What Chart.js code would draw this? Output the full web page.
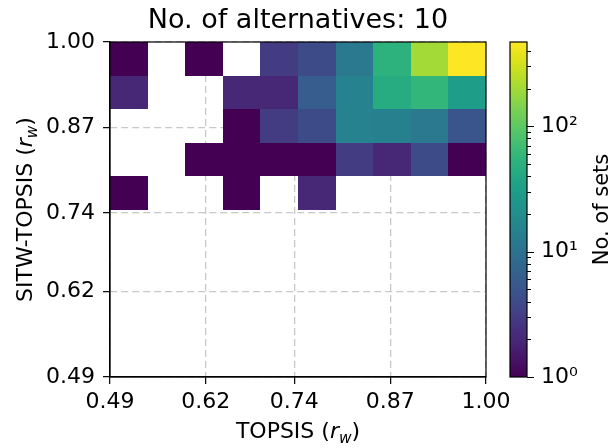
<!DOCTYPE html>
<html>
<head>
<meta charset="utf-8">
<script src="https://cdn.jsdelivr.net/npm/chart.js@4.4.1/dist/chart.umd.min.js"></script>
<style>
  html, body { margin: 0; padding: 0; background: #fff; }
</style>
</head>
<body>
<canvas id="chart" width="611" height="448"></canvas>
<script>
// bin edges, same on both axes
const binEdges = [0.49, 0.541, 0.592, 0.643, 0.694, 0.745, 0.796, 0.847, 0.898, 0.949, 1.0];
const tickValues = [0.49, 0.62, 0.74, 0.87, 1.00];
const cbTicks = [1, 10, 100];
const cbLabels = ['10\u2070', '10\u00b9', '10\u00b2'];
const cbMax = 470;

// counts per y bin (left to right along x); empty rows below 0.745
const row0745 = [1, 0, 0, 1, 0, 2, 0, 0, 0, 0];
const row0796 = [0, 0, 1, 1, 1, 1, 3, 2, 4, 1];
const row0847 = [0, 0, 0, 1, 3, 4, 15, 14, 12, 5];
const row0898 = [2, 0, 0, 2, 2, 6, 15, 45, 58, 30];
const row0949 = [1, 0, 1, 0, 3, 4, 12, 52, 200, 470];
const emptyRow = [0, 0, 0, 0, 0, 0, 0, 0, 0, 0];
const counts = [emptyRow, emptyRow, emptyRow, emptyRow, emptyRow, row0745, row0796, row0847, row0898, row0949];

const titleText = 'No. of alternatives: 10';
const xLabel = [{text: 'TOPSIS ('}, {text: 'r', it: true}, {text: 'w', it: true, sub: true}, {text: ')'}];
const yLabel = [{text: 'SITW-TOPSIS ('}, {text: 'r', it: true}, {text: 'w', it: true, sub: true}, {text: ')'}];
const cbLabel = [{text: 'No. of sets'}];

const FONT = 'DejaVu Sans';

const viridisStops = ['#440154', '#471365', '#482475', '#46327e', '#414487', '#3b528b', '#355f8d', '#2f6c8e',
  '#2a788e', '#25858e', '#21918c', '#1e9c89', '#22a884', '#2fb47c', '#44bf70', '#5ec962', '#7ad151',
  '#9bd93c', '#bddf26', '#dfe318', '#fde725'];

function hexRgb(h) {
  return [parseInt(h.slice(1, 3), 16), parseInt(h.slice(3, 5), 16), parseInt(h.slice(5, 7), 16)];
}
function viridis(t) {
  t = Math.max(0, Math.min(1, t));
  const n = viridisStops.length - 1;
  const i = Math.min(n - 1, Math.floor(t * n));
  const f = t * n - i;
  const a = hexRgb(viridisStops[i]), b = hexRgb(viridisStops[i + 1]);
  const c = a.map((v, k) => Math.round(v + (b[k] - v) * f));
  return `rgb(${c[0]},${c[1]},${c[2]})`;
}

const cells = [];
counts.forEach((row, j) => row.forEach((v, i) => {
  if (v > 0) cells.push({x: binEdges[i], y: binEdges[j], x2: binEdges[i + 1], y2: binEdges[j + 1], v: v});
}));

function drawRich(ctx, parts, size) {
  const fontFor = p => (p.it ? 'italic ' : '') + (p.sub ? size * 0.7 : size) + 'px "' + FONT + '"';
  const widths = parts.map(p => { ctx.font = fontFor(p); return ctx.measureText(p.text).width; });
  let x = -widths.reduce((a, b) => a + b, 0) / 2;
  parts.forEach((p, i) => {
    ctx.font = fontFor(p);
    ctx.fillText(p.text, x, p.sub ? size * 0.22 : 0);
    x += widths[i];
  });
}

const heatmap = {
  id: 'heatmap',
  beforeDatasetsDraw(chart) {
    const {ctx, scales: {x, y}} = chart;
    const lmax = Math.log10(cbMax);
    ctx.save();
    chart.data.datasets[0].data.forEach(c => {
      const x0 = Math.round(x.getPixelForValue(c.x)), x1 = Math.round(x.getPixelForValue(c.x2));
      const y0 = Math.round(y.getPixelForValue(c.y2)), y1 = Math.round(y.getPixelForValue(c.y));
      ctx.fillStyle = viridis(Math.log10(c.v) / lmax);
      ctx.fillRect(x0, y0, x1 - x0, y1 - y0);
    });
    ctx.restore();
  },
  afterDraw(chart) {
    const {ctx, chartArea: a} = chart;
    const cb = chart.scales.cb;
    ctx.save();
    // frame
    ctx.strokeStyle = '#000';
    ctx.lineWidth = 1.2;
    ctx.strokeRect(a.left, a.top, a.right - a.left, a.bottom - a.top);

    // colorbar
    const barL = cb.left + 24, barR = cb.left + 41;
    const grad = ctx.createLinearGradient(0, cb.bottom, 0, cb.top);
    viridisStops.forEach((c, i) => grad.addColorStop(i / (viridisStops.length - 1), c));
    ctx.fillStyle = grad;
    ctx.fillRect(barL, cb.top, barR - barL, cb.bottom - cb.top);
    ctx.strokeRect(barL, cb.top, barR - barL, cb.bottom - cb.top);
    ctx.lineWidth = 1;
    for (let d = 1; d <= 100; d *= 10) {
      for (let m = 1; m < 10; m++) {
        const v = d * m;
        if (v > cbMax) break;
        const py = Math.round(cb.getPixelForValue(v)) + 0.5;
        ctx.beginPath();
        ctx.moveTo(barR, py);
        ctx.lineTo(barR + (m === 1 ? 7 : 4), py);
        ctx.stroke();
      }
    }

    // texts
    ctx.fillStyle = '#000';
    ctx.textAlign = 'left';
    ctx.textBaseline = 'alphabetic';
    ctx.font = '27px "' + FONT + '"';
    const tw = ctx.measureText(titleText).width;
    ctx.fillText(titleText, (a.left + a.right) / 2 - tw / 2, 28);

    ctx.save();
    ctx.translate((a.left + a.right) / 2, 438);
    drawRich(ctx, xLabel, 22);
    ctx.restore();

    ctx.save();
    ctx.translate(32, (a.top + a.bottom) / 2);
    ctx.rotate(-Math.PI / 2);
    drawRich(ctx, yLabel, 22);
    ctx.restore();

    ctx.save();
    ctx.translate(608, (a.top + a.bottom) / 2);
    ctx.rotate(-Math.PI / 2);
    drawRich(ctx, cbLabel, 21);
    ctx.restore();
    ctx.restore();
  }
};

const noPad = s => { s.paddingTop = 0; s.paddingBottom = 0; s.paddingLeft = 0; s.paddingRight = 0; };

const axisCommon = {
  type: 'linear',
  min: 0.49,
  max: 1.0,
  afterBuildTicks: s => { s.ticks = tickValues.map(v => ({value: v})); },
  grid: {
    color: '#c8c8c8',
    lineWidth: 1.3,
    tickLength: 7,
    tickColor: '#000',
    tickWidth: 1.2,
    tickBorderDash: []
  },
  border: {display: true, color: '#000', width: 1.2, dash: [7, 4]}
};

new Chart(document.getElementById('chart'), {
  type: 'scatter',
  data: {
    datasets: [{
      data: cells,
      pointRadius: 0,
      pointHoverRadius: 0
    }]
  },
  options: {
    responsive: false,
    animation: false,
    layout: {padding: {top: 42, left: 0, right: 0, bottom: 0}},
    plugins: {legend: {display: false}, tooltip: {enabled: false}, title: {display: false}},
    scales: {
      x: Object.assign({}, axisCommon, {
        position: 'bottom',
        afterFit: s => { s.height = 71; noPad(s); },
        ticks: {callback: v => v.toFixed(2), font: {family: FONT, size: 22}, color: '#000',
          padding: 5, maxRotation: 0, autoSkip: false}
      }),
      y: Object.assign({}, axisCommon, {
        position: 'left',
        afterFit: s => { s.width = 110; noPad(s); },
        ticks: {callback: v => v.toFixed(2), font: {family: FONT, size: 22}, color: '#000',
          padding: 8, autoSkip: false}
      }),
      cb: {
        type: 'logarithmic',
        position: 'right',
        min: 1,
        max: cbMax,
        afterFit: s => { s.width = 125; noPad(s); },
        afterBuildTicks: s => { s.ticks = cbTicks.map(v => ({value: v})); },
        ticks: {callback: v => cbLabels[cbTicks.indexOf(v)], font: {family: FONT, size: 22},
          color: '#000', padding: 55},
        grid: {display: false, drawTicks: false},
        border: {display: false}
      }
    }
  },
  plugins: [heatmap]
});
</script>
</body>
</html>
